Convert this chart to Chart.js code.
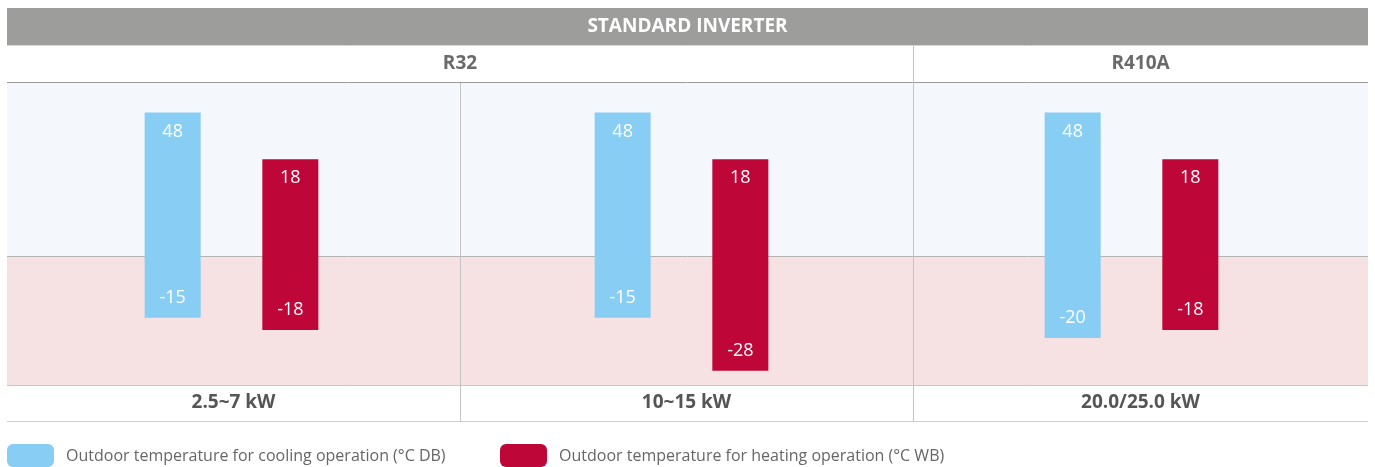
<!DOCTYPE html>
<html>
<head>
<meta charset="utf-8">
<script src="https://cdn.jsdelivr.net/npm/chart.js@4/dist/chart.umd.min.js"></script>
<style>
html,body{margin:0;padding:0;background:#fff;}
#c{display:block;}
</style>
</head>
<body>
<canvas id="c" width="1375" height="467"></canvas>
<script>
// ---- data ----
const title = 'STANDARD INVERTER';
const refrigerants = ['R32', 'R410A'];
const refrigerantSpan = [2, 1]; // number of categories under each refrigerant
const categories = ['2.5~7 kW', '10~15 kW', '20.0/25.0 kW'];
const coolingLabel = 'Outdoor temperature for cooling operation (°C DB)';
const heatingLabel = 'Outdoor temperature for heating operation (°C WB)';
const coolingMin = [-15, -15, -20];
const coolingMax = [48, 48, 48];
const heatingMin = [-18, -28, -18];
const heatingMax = [18, 18, 18];

// ---- table layout (panel edges of the surrounding table) ----
const LAYOUT = { panelEdges: [7, 460, 913, 1368], headerTop: 8, headerBottom: 45, rowBottom: 83, plotBottom: 385, labelBottom: 422 };

// ---- schematic value scale: linear below zero, compressed (power) above zero ----
class SchematicScale extends Chart.LinearScale {
  _tf(v) {
    const o = this.options;
    return v >= 0 ? o.posFactor * Math.pow(v, o.posPower) : v;
  }
  _itf(t) {
    const o = this.options;
    return t >= 0 ? Math.pow(t / o.posFactor, 1 / o.posPower) : t;
  }
  getPixelForValue(value) {
    const a = this._tf(this.min), b = this._tf(this.max);
    return this.getPixelForDecimal((this._tf(value) - a) / (b - a));
  }
  getValueForPixel(pixel) {
    const a = this._tf(this.min), b = this._tf(this.max);
    return this._itf(a + this.getDecimalForPixel(pixel) * (b - a));
  }
}
SchematicScale.id = 'schematic';
SchematicScale.defaults = Chart.LinearScale.defaults;
Chart.register(SchematicScale);

const FONT = '"Open Sans", "Noto Sans", sans-serif';

function hline(ctx, x0, x1, y, color) {
  ctx.strokeStyle = color;
  ctx.beginPath(); ctx.moveTo(x0, y); ctx.lineTo(x1, y); ctx.stroke();
}

const decorPlugin = {
  id: 'decor',
  beforeDraw(chart) {
    const ctx = chart.ctx;
    const y = chart.scales.y;
    const E = LAYOUT.panelEdges;
    const L = E[0], R = E[E.length - 1];
    ctx.save();
    ctx.fillStyle = '#fff';
    ctx.fillRect(0, 0, chart.width, chart.height);
    // header bar
    ctx.fillStyle = '#9d9d9b';
    ctx.fillRect(L, LAYOUT.headerTop, R - L, LAYOUT.headerBottom - LAYOUT.headerTop);
    // bands split at value 0
    const z = Math.round(y.getPixelForValue(0));
    ctx.fillStyle = '#f4f8fc';
    ctx.fillRect(L, LAYOUT.rowBottom, R - L, z - LAYOUT.rowBottom);
    ctx.fillStyle = '#f6e2e2';
    ctx.fillRect(L, z, R - L, LAYOUT.plotBottom - z);
    // lines
    ctx.lineWidth = 1;
    hline(ctx, L, R, LAYOUT.headerBottom + 0.5, '#d6d6d6');
    hline(ctx, L, R, LAYOUT.rowBottom - 0.5, '#9a9a9a');
    hline(ctx, L, R, z + 0.5, '#b4b4b4');
    hline(ctx, L, R, LAYOUT.plotBottom + 0.5, '#c8c8c8');
    hline(ctx, L, R, LAYOUT.labelBottom - 0.5, '#cfcfcf');
    // vertical dividers between panels
    let acc = 0;
    const groupEnds = [];
    refrigerantSpan.forEach(s => { acc += s; groupEnds.push(acc); });
    ctx.strokeStyle = '#c4c4c4';
    for (let i = 1; i < E.length - 1; i++) {
      const px = E[i] + 0.5;
      const top = groupEnds.includes(i) ? LAYOUT.headerBottom + 1 : LAYOUT.rowBottom;
      ctx.beginPath(); ctx.moveTo(px, top); ctx.lineTo(px, LAYOUT.labelBottom - 1); ctx.stroke();
    }
    ctx.restore();
  },
  afterDraw(chart) {
    const ctx = chart.ctx;
    const E = LAYOUT.panelEdges;
    const L = E[0], R = E[E.length - 1];
    ctx.save();
    ctx.textAlign = 'center';
    ctx.textBaseline = 'middle';
    // title
    ctx.fillStyle = '#ffffff';
    ctx.font = 'bold 19px ' + FONT;
    ctx.fillText(title, (L + R) / 2, 27);
    // refrigerants
    ctx.fillStyle = '#6a6a6a';
    ctx.font = 'bold 19px ' + FONT;
    let start = 0;
    refrigerants.forEach((r, i) => {
      const end = start + refrigerantSpan[i];
      ctx.fillText(r, (E[start] + E[end]) / 2, 64);
      start = end;
    });
    // category labels
    ctx.fillStyle = '#555555';
    ctx.font = 'bold 19px ' + FONT;
    categories.forEach((c, i) => {
      ctx.fillText(c, (E[i] + E[i + 1]) / 2, LAYOUT.plotBottom + 18);
    });
    // legend
    const ds = chart.data.datasets;
    const legendX = [7, 500];
    ctx.textAlign = 'left';
    ctx.font = '16px ' + FONT;
    ds.forEach((d, i) => {
      ctx.fillStyle = d.backgroundColor;
      ctx.beginPath();
      ctx.roundRect(legendX[i], 444, 47, 23, 6);
      ctx.fill();
      ctx.fillStyle = '#666666';
      ctx.fillText(d.label, legendX[i] + 59, 456);
    });
    ctx.restore();
  },
  afterDatasetsDraw(chart) {
    const ctx = chart.ctx;
    ctx.save();
    ctx.fillStyle = '#ffffff';
    ctx.font = '18px ' + FONT;
    ctx.textAlign = 'center';
    ctx.textBaseline = 'middle';
    chart.data.datasets.forEach((d, di) => {
      const meta = chart.getDatasetMeta(di);
      meta.data.forEach((el, i) => {
        const v = d.data[i];
        const top = Math.min(el.y, el.base), bot = Math.max(el.y, el.base);
        ctx.fillText(String(Math.max(v[0], v[1])), el.x, top + 19);
        ctx.fillText(String(Math.min(v[0], v[1])), el.x, bot - 20);
      });
    });
    ctx.restore();
  }
};

new Chart(document.getElementById('c'), {
  type: 'bar',
  data: {
    labels: categories,
    datasets: [
      {
        label: coolingLabel,
        data: categories.map((_, i) => [coolingMin[i], coolingMax[i]]),
        backgroundColor: '#87cdf4'
      },
      {
        label: heatingLabel,
        data: categories.map((_, i) => [heatingMin[i], heatingMax[i]]),
        backgroundColor: '#be0638'
      }
    ]
  },
  options: {
    responsive: false,
    animation: false,
    events: [],
    categoryPercentage: 0.523,
    barPercentage: 0.476,
    layout: { padding: { left: 6.5, right: 18.5, top: 83, bottom: 82 } },
    plugins: { legend: { display: false }, tooltip: { enabled: false }, title: { display: false } },
    scales: {
      x: { type: 'category', display: false },
      y: { type: 'schematic', display: false, min: -31.5, max: 76.4, posFactor: 7.5, posPower: 0.4 }
    }
  },
  plugins: [decorPlugin]
});
</script>
</body>
</html>
